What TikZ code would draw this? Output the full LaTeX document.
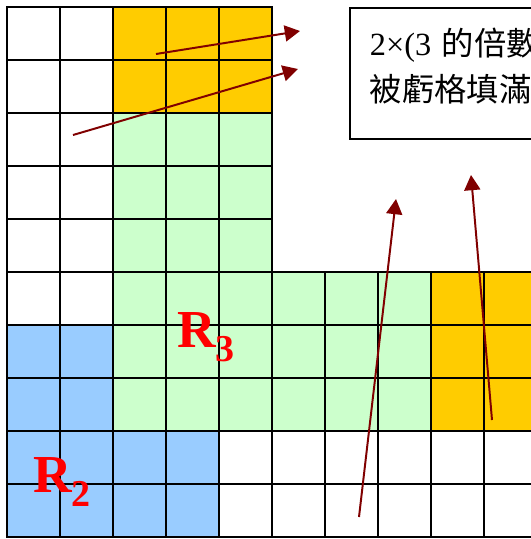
\documentclass[tikz,border=0pt]{standalone}
\usepackage{fontspec}
\setmainfont{Liberation Serif}
\newfontfamily\cjk{Noto Sans CJK TC}
\usetikzlibrary{arrows.meta}

\definecolor{cellorange}{RGB}{255,204,0}
\definecolor{cellgreen}{RGB}{204,255,204}
\definecolor{cellblue}{RGB}{153,204,255}
\definecolor{arrowred}{RGB}{128,0,0}

\tikzset{
  gridline/.style={line width=1.4pt,line cap=rect},
  pointer/.style={arrowred,line width=1.4pt,-{Triangle[length=3.8mm,width=4mm]}},
  regionlabel/.style={red,inner sep=0pt,anchor=base west,
    font=\fontsize{38}{38}\selectfont\bfseries},
  notebox/.style={draw,fill=white,line width=1.2pt,anchor=north west,
    minimum height=3.275cm,text width=9cm,text depth=1.6cm,
    inner xsep=0.5cm,align=left,font=\fontsize{23}{33}\selectfont}
}
\newcommand{\regsub}[1]{\raisebox{-0.28em}{\fontsize{27}{27}\selectfont #1}}

\begin{document}
\begin{tikzpicture}[x=0.025cm,y=-0.025cm]
  \useasboundingbox (0,0) rectangle (531,539);
  \clip (0,0) rectangle (531,539);

  % coloured cells
  \fill[cellorange] (113,7) rectangle (272,113);
  \fill[cellorange] (431,272) rectangle (537,431);
  \fill[cellgreen] (113,113) rectangle (272,272);
  \fill[cellgreen] (113,272) rectangle (431,431);
  \fill[cellblue] (7,325) rectangle (113,431);
  \fill[cellblue] (7,431) rectangle (219,537);

  % grid
  \foreach \i [evaluate=\i as \p using 7+53*\i] in {0,...,5} {
    \draw[gridline] (\p,7) -- (\p,537);
    \draw[gridline] (7,\p) -- (272,\p);
  }
  \foreach \i [evaluate=\i as \p using 7+53*\i] in {5,...,10} {
    \draw[gridline] (\p,272) -- (\p,537);
    \draw[gridline] (7,\p) -- (537,\p);
  }

  % region names
  \node[regionlabel] (r3) at (177,347) {R\regsub{3}};
  \node[regionlabel] (r2) at (33,492) {R\regsub{2}};

  % note
  \node[notebox] (note) at (349,7) {2×(3 {\cjk 的倍數)}\\{\cjk 被虧格填滿}};

  % pointers
  \coordinate (a1s) at (156,54);
  \coordinate (a1e) at (300,31);
  \coordinate (a2s) at (73,135);
  \coordinate (a2e) at (298,69);
  \coordinate (a3s) at (359,517);
  \coordinate (a3e) at (396,199);
  \coordinate (a4s) at (492,420);
  \coordinate (a4e) at (471,175);
  \draw[pointer] (a1s) -- (a1e);
  \draw[pointer] (a2s) -- (a2e);
  \draw[pointer] (a3s) -- (a3e);
  \draw[pointer] (a4s) -- (a4e);
\end{tikzpicture}
\end{document}
